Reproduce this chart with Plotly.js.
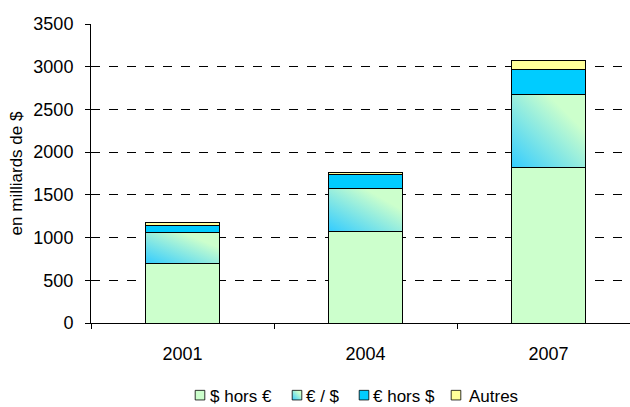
<!DOCTYPE html>
<html><head><meta charset="utf-8">
<script src="https://cdn.plot.ly/plotly-3.0.1.min.js"></script>
<style>html,body{margin:0;padding:0;background:#fff}#c{width:630px;height:407px}</style>
</head><body><div id="c"></div>
<script>
const years = ['2001', '2004', '2007'];
const seriesNames = ['$ hors €', '€ / $', '€ hors $', 'Autres'];
const dollarHorsEuro = [700, 1075, 1820];
const euroDollar = [360, 495, 850];
const euroHorsDollar = [85, 165, 295];
const autres = [30, 25, 110];
const yTicks = [0, 500, 1000, 1500, 2000, 2500, 3000, 3500];

const colors = ['#ccffcc', '#7fdde8', '#00ccff', '#ffff99'];
const values = [dollarHorsEuro, euroDollar, euroHorsDollar, autres];
const traces = values.map((v, i) => ({
  type: 'bar', x: years, y: v, name: seriesNames[i],
  marker: {color: colors[i], line: {color: '#000', width: 1}},
  hoverinfo: 'y'
}));

const layout = {
  width: 630, height: 407,
  margin: {l: 91, r: 0, t: 24, b: 84},
  barmode: 'stack', bargap: 0.595,
  paper_bgcolor: '#fff', plot_bgcolor: '#fff',
  font: {family: 'Liberation Sans, Arial, sans-serif', size: 18, color: '#000'},
  xaxis: {
    type: 'category', range: [-0.5, 2.445], showline: true, linecolor: '#000', linewidth: 1,
    ticks: 'outside', tickson: 'boundaries', ticklen: 5, tickcolor: '#000',
    showgrid: false, tickfont: {size: 18}, ticklabelstandoff: 14
  },
  yaxis: {
    range: [0, 3500], tickvals: yTicks, showline: true, linecolor: '#000', linewidth: 1,
    ticks: 'outside', ticklen: 5, tickcolor: '#000',
    showgrid: true, gridcolor: '#000', griddash: 'dash', gridwidth: 1,
    zeroline: false, tickfont: {size: 18}, ticklabelstandoff: 8,
    title: {text: 'en milliards de $', font: {size: 17}, standoff: 6}
  },
  showlegend: true,
  legend: {orientation: 'h', xref: 'container', yref: 'container', x: 0.584, xanchor: 'center',
    y: 0.028, yanchor: 'middle', traceorder: 'normal', font: {size: 17}, itemwidth: 30}
};

Plotly.newPlot('c', traces, layout, {displayModeBar: false, staticPlot: true}).then(gd => {
  const svg = gd.querySelector('svg.main-svg');
  const ns = 'http://www.w3.org/2000/svg';
  let defs = svg.querySelector('defs');
  if (!defs) { defs = document.createElementNS(ns, 'defs'); svg.insertBefore(defs, svg.firstChild); }
  const g = document.createElementNS(ns, 'linearGradient');
  g.setAttribute('id', 'eurdolGrad');
  g.setAttribute('x1', '0'); g.setAttribute('y1', '1'); g.setAttribute('x2', '1'); g.setAttribute('y2', '0');
  [['0', '#33ccff'], ['0.75', '#ccffcc'], ['1', '#ccffcc']].forEach(([o, c]) => {
    const s = document.createElementNS(ns, 'stop'); s.setAttribute('offset', o); s.setAttribute('stop-color', c); g.appendChild(s);
  });
  defs.appendChild(g);
  const barTraces = gd.querySelectorAll('.barlayer .trace');
  if (barTraces[1]) barTraces[1].querySelectorAll('path').forEach(p => { p.style.fill = 'url(#eurdolGrad)'; });

  // compact legend layout like the original
  const targets = [{sq: 200, tx: 210}, {sq: 297, tx: 306}, {sq: 364, tx: 373}, {sq: 456, tx: 469}];
  const sr = svg.getBoundingClientRect();
  const items = gd.querySelectorAll('.legend .traces');
  items.forEach((item, i) => {
    const t = targets[i]; if (!t) return;
    const text = item.querySelector('text.legendtext');
    if (text) {
      const r = text.getBoundingClientRect();
      const dx = t.tx - (r.left - sr.left);
      text.setAttribute('x', parseFloat(text.getAttribute('x') || 0) + dx);
    }
    item.querySelectorAll('.legendpoints path').forEach(p => {
      if (i === 1) p.style.fill = 'url(#eurdolGrad)';
      const ex = p.getAttribute('transform') || '';
      p.setAttribute('transform', ('scale(0.8) ' + ex).trim());
      const pr = p.getBoundingClientRect();
      const c = (pr.left + pr.right) / 2 - sr.left;
      p.setAttribute('transform', ('translate(' + (t.sq - c) + ',0) scale(0.8) ' + ex).trim());
    });
  });
});
</script></body></html>
